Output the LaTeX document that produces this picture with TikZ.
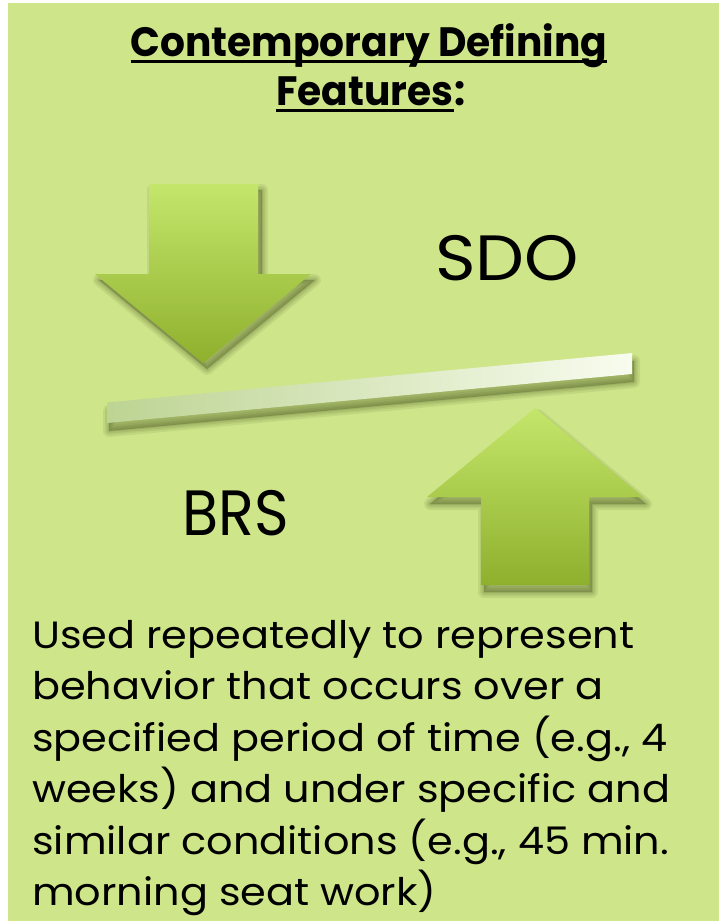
\documentclass[tikz,border=0pt]{standalone}
\usepackage{fontspec}
\setmainfont{Poppins}
\newfontfamily\bodyfont[FakeStretch=1.09]{Poppins}
\newfontfamily\titlefam[FakeStretch=0.955]{Poppins}
\definecolor{bg}{HTML}{CFE58A}
\definecolor{arrtop}{HTML}{C4E66B}
\definecolor{arrbot}{HTML}{8FB02D}
\definecolor{barl}{HTML}{BDD493}
\definecolor{barr}{HTML}{F8FCEF}
\definecolor{shadowc}{HTML}{3E4C18}
\tikzset{
  titlefont/.style={font=\titlefam\fontsize{41}{50}\selectfont\bfseries, inner sep=0pt},
  bodyline/.style={font=\bodyfont\fontsize{38}{52}\selectfont, inner sep=0pt, anchor=base west},
  bigword/.style={font=\fontsize{64}{70}\selectfont, inner sep=0pt, anchor=base west},
  shadowlayer/.style={fill=shadowc, draw=shadowc, opacity=0.09, line join=round},
  uline/.style={line width=3pt}
}
\begin{document}
\begin{tikzpicture}[x=1pt,y=-1pt]
\useasboundingbox (0,0) rectangle (719,922);
\fill[white] (0,0) rectangle (719,922);
\fill[bg] (8,3) rectangle (719,921);

% title
\node[titlefont, anchor=base] (t1) at (369,56) {Contemporary Defining};
\draw[uline] ([yshift=-5pt]t1.base west) -- ([yshift=-5pt]t1.base east);
\node[titlefont, anchor=base west] (t2) at (276,105) {Features};
\node[titlefont, anchor=base west] (t2c) at ([xshift=1pt]t2.base east) {:};
\draw[uline] ([yshift=-5pt]t2.base west) -- ([yshift=-5pt]t2.base east);

% shadows
\foreach \w in {12,8,5,2}{
  \begin{scope}[shift={(4,6)}]
    \filldraw[shadowlayer, line width=\w pt] (149,184) -- (258,184) -- (258,274) -- (311,274) -- (203,363) -- (95,274) -- (149,274) -- cycle;
  \end{scope}
  \begin{scope}[shift={(3,7)}]
    \filldraw[shadowlayer, line width=\w pt] (535,408) -- (643,497) -- (589,497) -- (589,585) -- (481,585) -- (481,497) -- (427,497) -- cycle;
  \end{scope}
  \begin{scope}[shift={(2,8)}]
    \filldraw[shadowlayer, line width=\w pt] (107,402.5) -- (632,353) -- (632,374) -- (107,423) -- cycle;
  \end{scope}
}

% down arrow
\shade[top color=arrtop, bottom color=arrbot] (149,184) -- (258,184) -- (258,274) -- (311,274) -- (203,363) -- (95,274) -- (149,274) -- cycle;
% up arrow
\shade[top color=arrtop, bottom color=arrbot] (535,408) -- (643,497) -- (589,497) -- (589,585) -- (481,585) -- (481,497) -- (427,497) -- cycle;
% bar
\shade[left color=barl, right color=barr] (107,402.5) -- (632,353) -- (632,374) -- (107,423) -- cycle;

% labels
\node[bigword] (sdo) at (435,280) {\scalebox{1.08}[1]{SDO}};
\node[bigword] (brs) at (182,535) {\scalebox{0.92}[1]{BRS}};

% body
\node[bodyline] (l1) at (32,648) {Used repeatedly to represent};
\node[bodyline] (l2) at (32,699.5) {behavior that occurs over a};
\node[bodyline] (l3) at (32,751) {specified period of time (e.g., 4};
\node[bodyline] (l4) at (32,802.5) {weeks) and under specific and};
\node[bodyline] (l5) at (32,854) {similar conditions (e.g., 45 min.};
\node[bodyline] (l6) at (32,905.5) {morning seat work)};
\end{tikzpicture}
\end{document}
